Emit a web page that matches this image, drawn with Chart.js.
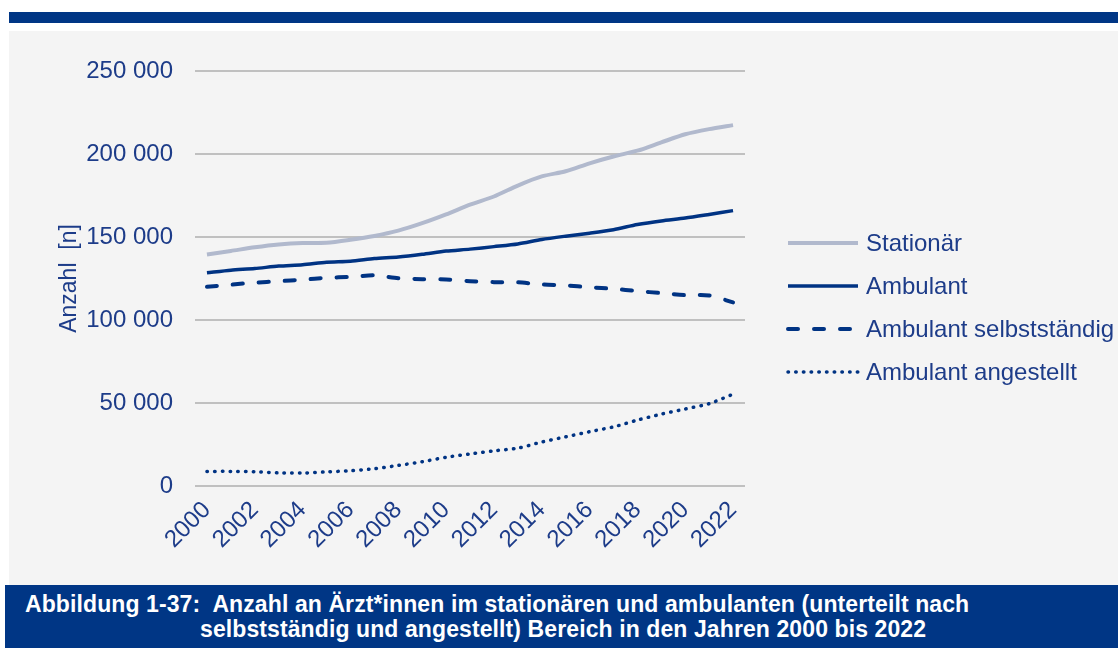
<!DOCTYPE html>
<html lang="de">
<head>
<meta charset="utf-8">
<title>Ärzt*innen stationär und ambulant 2000–2022</title>
<script src="https://cdn.jsdelivr.net/npm/chart.js@4/dist/chart.umd.min.js"></script>
<style>
  html, body { margin: 0; padding: 0; background: #fff; }
  body { width: 1118px; height: 648px; position: relative; overflow: hidden; font-family: "Liberation Sans", Arial, sans-serif; }
  .topbar { position: absolute; left: 9px; top: 12px; width: 1109px; height: 11px; background: #003685; }
  .panel { position: absolute; left: 9px; top: 31px; width: 1109px; height: 554px; background: #f4f4f4; }
  .panel canvas { display: block; }
  .caption { position: absolute; left: 5px; top: 585px; width: 1113px; height: 63px; background: #003685; color: #fff; }
  .caption div { position: absolute; white-space: pre; font-family: "Liberation Sans", Arial, sans-serif; font-weight: bold; font-size: 23px; line-height: 25px; letter-spacing: 0.1px; }
</style>
</head>
<body>
<div class="topbar"></div>
<div class="panel"><canvas id="lineChart" width="1109" height="554"></canvas></div>
<div class="caption">
  <div style="left: 20px; top: 7px;">Abbildung 1-37:  Anzahl an Ärzt*innen im stationären und ambulanten (unterteilt nach</div>
  <div style="left: 195px; top: 32px;">selbstständig und angestellt) Bereich in den Jahren 2000 bis 2022</div>
</div>
<script>
const years = ['2000', '2001', '2002', '2003', '2004', '2005', '2006', '2007', '2008', '2009', '2010', '2011',
  '2012', '2013', '2014', '2015', '2016', '2017', '2018', '2019', '2020', '2021', '2022'];

const stationaer = [139500, 141600, 143800, 145500, 146400, 146500, 148300, 150600, 153800, 158300, 163600, 169500,
  174400, 181000, 186500, 189600, 194400, 198500, 202000, 207000, 211900, 215000, 217400];
const ambulant = [128500, 130000, 131000, 132500, 133300, 134800, 135400, 137000, 138000, 139600, 141500, 142700,
  144200, 145800, 148500, 150500, 152300, 154400, 157500, 159700, 161400, 163600, 165900];
const selbststaendig = [120000, 121300, 122500, 123400, 124300, 125400, 126000, 126900, 125200, 124600, 124400, 123400,
  122800, 122700, 121400, 120800, 119700, 118800, 117400, 116200, 115000, 114800, 110600];
const angestellt = [8800, 8800, 8600, 7900, 7800, 8500, 9200, 10400, 12400, 14600, 17300, 19300,
  21200, 22800, 26500, 29600, 32700, 35600, 39700, 43300, 46400, 49600, 55300];

const yTicks = [0, 50000, 100000, 150000, 200000, 250000];

const DARK = '#003383';
const LIGHT = '#b1b9cd';
const TEXT = '#1d3c89';
const FONT = '"Liberation Sans", Arial, sans-serif';

// legend drawn to the right of the plot: line sample + label per series
const sideLegend = {
  id: 'sideLegend',
  afterDraw(chart) {
    const ctx = chart.ctx;
    const x0 = 779, len = 70, rowTop = 212, rowGap = 43;
    ctx.save();
    ctx.font = '24px ' + FONT;
    ctx.textBaseline = 'middle';
    ctx.textAlign = 'left';
    chart.data.datasets.forEach((ds, i) => {
      const y = rowTop + i * rowGap;
      ctx.beginPath();
      ctx.strokeStyle = ds.borderColor;
      ctx.lineWidth = ds.borderWidth;
      ctx.lineCap = ds.borderCapStyle || 'butt';
      ctx.setLineDash(ds.borderDash || []);
      ctx.moveTo(x0, y);
      ctx.lineTo(x0 + len, y);
      ctx.stroke();
      ctx.setLineDash([]);
      ctx.fillStyle = TEXT;
      ctx.fillText(ds.label, x0 + len + 8, y + 1);
    });
    ctx.restore();
  }
};

new Chart(document.getElementById('lineChart'), {
  type: 'line',
  data: {
    labels: years,
    datasets: [
      { label: 'Stationär', data: stationaer, borderColor: LIGHT, borderWidth: 4, tension: 0.25, pointRadius: 0 },
      { label: 'Ambulant', data: ambulant, borderColor: DARK, borderWidth: 3.5, tension: 0.25, pointRadius: 0 },
      { label: 'Ambulant selbstständig', data: selbststaendig, borderColor: DARK, borderWidth: 4, tension: 0.25, pointRadius: 0,
        borderDash: [10, 16], borderCapStyle: 'round' },
      { label: 'Ambulant angestellt', data: angestellt, borderColor: DARK, borderWidth: 3.5, tension: 0.25, pointRadius: 0,
        borderDash: [0.5, 7.2], borderCapStyle: 'round' }
    ]
  },
  options: {
    responsive: false,
    animation: false,
    layout: { padding: { top: 40, right: 373, bottom: 0, left: 0 } },
    plugins: { legend: { display: false }, tooltip: { enabled: false } },
    scales: {
      x: {
        offset: true,
        grid: { display: false, drawTicks: false },
        border: { display: false },
        afterFit: s => { s.height = 99; },
        ticks: {
          color: TEXT,
          font: { family: FONT, size: 24 },
          padding: 10,
          minRotation: 45,
          maxRotation: 45,
          autoSkip: false,
          callback: (v, i) => (i % 2 === 0 ? years[i] : '')
        }
      },
      y: {
        min: 0,
        max: 250000,
        afterFit: s => { s.width = 186; },
        afterBuildTicks: s => { s.ticks = yTicks.map(v => ({ value: v })); },
        grid: { color: '#c0c0c0', lineWidth: 2, drawTicks: false },
        border: { display: false },
        ticks: {
          color: TEXT,
          font: { family: FONT, size: 24 },
          padding: 22,
          callback: v => String(v).replace(/\B(?=(\d{3})+(?!\d))/g, ' ')
        },
        title: {
          display: true,
          text: 'Anzahl  [n]',
          color: TEXT,
          font: { family: FONT, size: 23 },
          padding: { top: 47, bottom: 0 }
        }
      }
    }
  },
  plugins: [sideLegend]
});
</script>
</body>
</html>
